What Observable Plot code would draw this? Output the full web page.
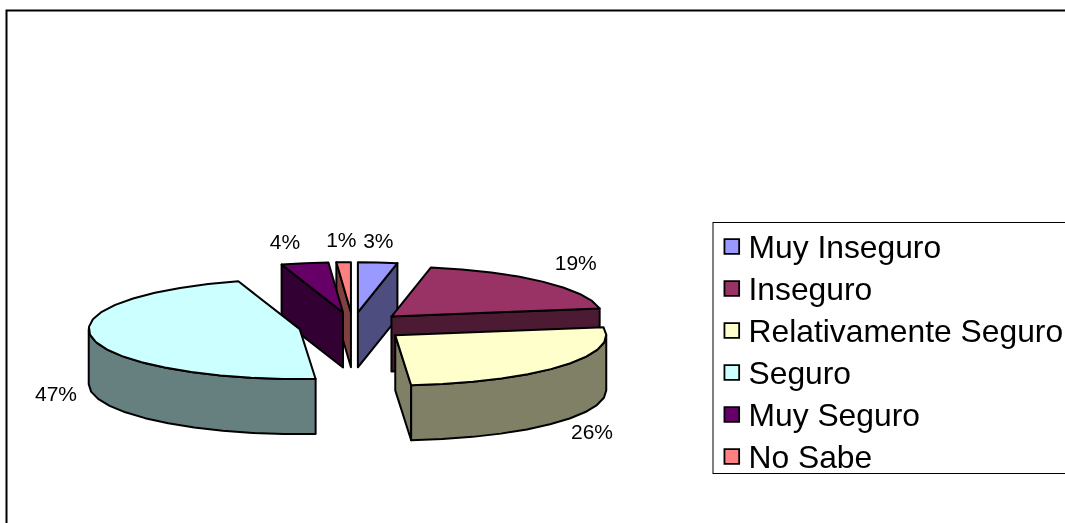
<!DOCTYPE html>
<html>
<head>
<meta charset="utf-8">
<script src="https://cdn.jsdelivr.net/npm/d3@7"></script>
<script src="https://cdn.jsdelivr.net/npm/@observablehq/plot@0.6"></script>
<style>
html,body{margin:0;padding:0;background:#fff;overflow:hidden}
svg{display:block;filter:blur(0.35px)}
</style>
</head>
<body>
<div id="chart"></div>
<script>
// Data
const categories = ["Muy Inseguro", "Inseguro", "Relativamente Seguro", "Seguro", "Muy Seguro", "No Sabe"];
const shares = [3.0, 19.4, 26.4, 46.5, 3.6, 1.1];
const topColors = ["#9999FF", "#993366", "#FFFFCC", "#CCFFFF", "#660066", "#FF8080"];
const sideColors = ["#4D4D80", "#4D1A33", "#808066", "#668080", "#330033", "#804040"];

// Layout
const W = 1065, H = 523;
const RX = 211, RY = 50, CX = 352.3, CY = 326;
const EXPLODE_X = 54 / RX, EXPLODE_Y = 14.3 / RY, DEPTH = 55 / RY;
const FONT = "'Liberation Sans', Arial, sans-serif";
const paintOrder = [0, 5, 4, 1, 3, 2];
const labelNudgeX = [-3, 6, 1, 1, -13, -1];
const labelNudgeY = [-1.5, -4.5, -1, -3, -1.5, -1.5];
const ux = p => (p - CX) / RX, uy = p => (p - CY) / RY;
const rad = Math.PI / 180;

// Slices in pie units (1 = radius)
let acc = 0;
const slices = categories.map((cat, i) => {
  const a0 = acc * 3.6; acc += shares[i];
  const a1 = acc * 3.6, mid = (a0 + a1) / 2;
  return {cat, i, a0, a1, mid,
    cx: Math.sin(mid * rad) * EXPLODE_X, cy: -Math.cos(mid * rad) * EXPLODE_Y};
});
const pointAt = (s, a) => ({cat: s.cat, x: s.cx + Math.sin(a * rad), y: s.cy - Math.cos(a * rad)});
const arc = (s, from, to) => {
  const n = Math.max(1, Math.ceil((to - from) / 9));
  return d3.range(n + 1).map(k => pointAt(s, from + (to - from) * k / n));
};
const down = p => ({...p, y: p.y + DEPTH});
const centre = s => ({cat: s.cat, x: s.cx, y: s.cy});
const face = (pts, options) => Plot.line([...pts, pts[0]], {
  x: "x", y: "y", stroke: "black", strokeWidth: 2, strokeLinejoin: "round", curve: "linear", ...options
});

const faces = [];
for (const idx of paintOrder) {
  const s = slices[idx], side = {fill: sideColors[idx]};
  // radial wall at the start of the slice
  if (Math.sin(s.a0 * rad) < 0) {
    const e = pointAt(s, s.a0), c = centre(s);
    faces.push(face([e, c, down(c), down(e)], side));
  }
  // radial wall at the end of the slice
  if (Math.sin(s.a1 * rad) > 0) {
    const e = pointAt(s, s.a1), c = centre(s);
    faces.push(face([e, c, down(c), down(e)], side));
  }
  // outer rim, front half only
  const from = Math.max(s.a0, 90), to = Math.min(s.a1, 270);
  if (to > from) {
    const rim = arc(s, from, to);
    faces.push(face([...rim, ...rim.map(down).reverse()], side));
  }
  // top
  faces.push(face([centre(s), ...arc(s, s.a0, s.a1)], {fill: "cat"}));
}

// Percent labels sit outside each slice, below the rim on the front half
const labels = slices.map((s, i) => {
  const sin = Math.sin(s.mid * rad), cos = Math.cos(s.mid * rad);
  return {
    text: Math.round(shares[i]) + "%",
    x: s.cx + 1.18 * sin + labelNudgeX[i] / RX,
    y: s.cy - 1.4 * cos + (cos < 0 ? DEPTH : 0) + labelNudgeY[i] / RY
  };
});

const legendRowY = i => uy(247 + 42 * i);

const plot = Plot.plot({
  width: W, height: H, margin: 0,
  x: {domain: [ux(0), ux(W)], range: [0, W], axis: null},
  y: {domain: [uy(0), uy(H)], range: [0, H], axis: null},
  color: {domain: categories, range: topColors},
  style: {background: "white", fontFamily: FONT},
  marks: [
    Plot.frame({stroke: "black", strokeWidth: 2, insetLeft: 6, insetTop: 10, insetRight: -10, insetBottom: -10}),
    ...faces,
    Plot.text(labels, {x: "x", y: "y", text: "text", fontSize: 21, fill: "black", fontFamily: FONT, lineAnchor: "middle"}),
    Plot.rect([0], {x1: ux(713), x2: ux(1080), y1: uy(222.5), y2: uy(473.5), fill: "white", stroke: "black", strokeWidth: 1}),
    Plot.dot(categories, {x: ux(731.3), y: (d, i) => legendRowY(i) - 1 / RY, fill: d => d, symbol: "square", r: 8.3, stroke: "black", strokeWidth: 1.8}),
    Plot.text(categories, {x: ux(748), y: (d, i) => legendRowY(i), text: d => d, textAnchor: "start", fontSize: 31.8, fill: "black", fontFamily: FONT, lineAnchor: "middle"})
  ]
});
document.getElementById("chart").append(plot);
</script>
</body>
</html>
